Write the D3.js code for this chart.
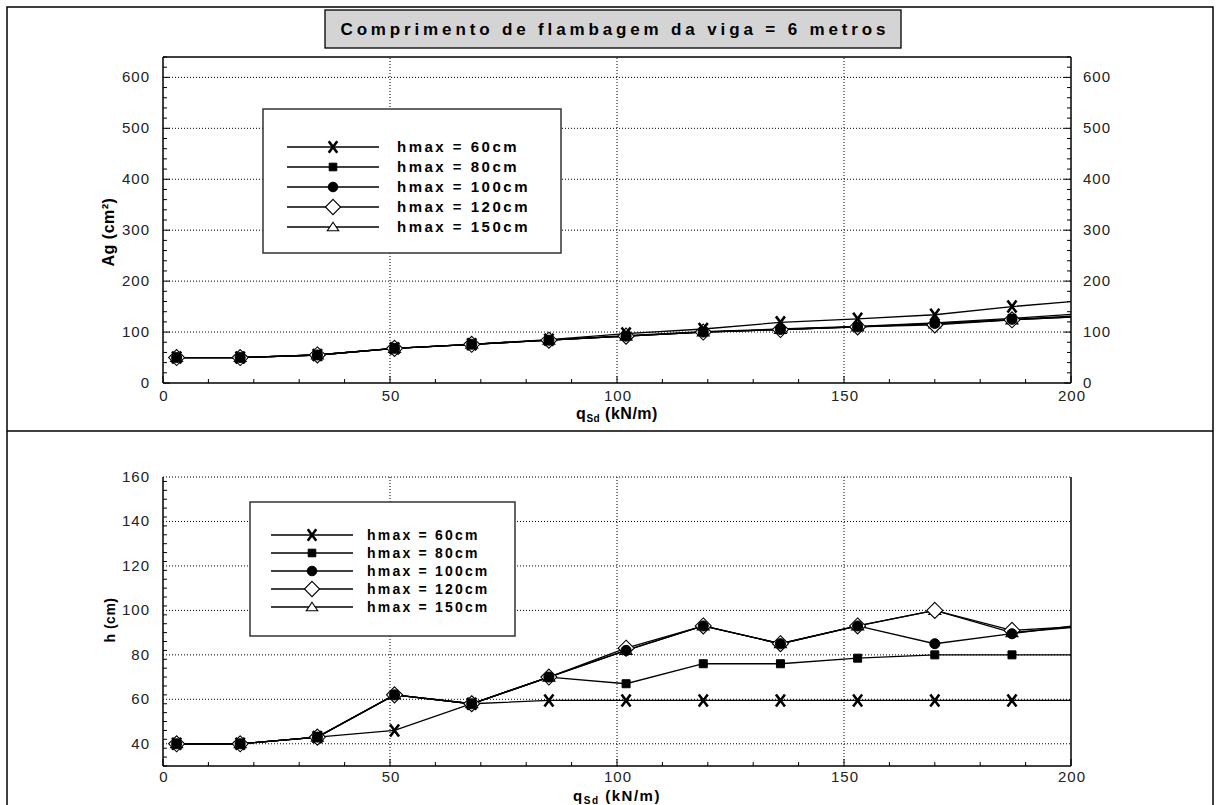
<!DOCTYPE html>
<html lang="pt">
<head>
    <meta charset="UTF-8" />
    <title>Comprimento de flambagem da viga = 6 metros</title>
    <script src="https://d3js.org/d3.v7.min.js"></script>
    <style>
        body { margin: 0; background: #fff; }
        svg { display: block; font-family: Arial, "Liberation Sans", sans-serif; }
        .tick-label { font-size: 15px; fill: #222; letter-spacing: 1px; }
        .grid { stroke: #000; stroke-width: 1; stroke-dasharray: 1,2; }
        .series { fill: none; stroke: #000; stroke-width: 1.3; }
    </style>
</head>
<body>
<script>
    // valores
    const qSd = [3, 17, 34, 51, 68, 85, 102, 119, 136, 153, 170, 187, 204];
    const seriesNames = ['hmax = 60cm', 'hmax = 80cm', 'hmax = 100cm', 'hmax = 120cm', 'hmax = 150cm'];
    const markerTypes = ['x', 'square', 'circle', 'diamond', 'triangle'];

    // Ag (cm²)
    const ag60  = [50, 50, 55, 68, 76, 85, 97, 106, 119, 126, 134, 150, 163];
    const ag80  = [50, 50, 55, 68, 76, 84, 93, 101, 106, 111, 118, 127, 137];
    const ag100 = [50, 50, 55, 68, 76, 84, 92, 100, 105, 110, 117, 125, 133];
    const ag120 = [50, 50, 55, 68, 76, 84, 92, 100, 105, 110, 114, 124, 131];
    const ag150 = [50, 50, 55, 68, 76, 84, 92, 100, 105, 110, 116, 124, 131];

    // h (cm)
    const h60  = [40, 40, 43, 46, 58, 59.5, 59.5, 59.5, 59.5, 59.5, 59.5, 59.5, 59.5];
    const h80  = [40, 40, 43, 62, 58, 70, 67, 76, 76, 78.5, 80, 80, 80];
    const h100 = [40, 40, 43, 62, 58, 70, 82, 93, 85, 93, 85, 89.5, 94];
    const h120 = [40, 40, 43, 62, 58, 70, 83, 93, 85, 93, 100, 91, 93];
    const h150 = [40, 40, 43, 62, 58, 70, 82, 93, 85, 93, 100, 90, 93];

    const xTicks = [0, 50, 100, 150, 200];
    const agTicks = [0, 100, 200, 300, 400, 500, 600];
    const hTicks = [40, 60, 80, 100, 120, 140, 160];

    const W = 1217, H = 805;
    const svg = d3.select('body').append('svg').attr('width', W).attr('height', H);

    // moldura externa e divisória
    svg.append('rect').attr('x', 7).attr('y', 7).attr('width', 1206).attr('height', 806)
        .attr('fill', 'none').attr('stroke', '#000').attr('stroke-width', 1.5);
    svg.append('line').attr('x1', 7).attr('x2', 1213).attr('y1', 431).attr('y2', 431)
        .attr('stroke', '#000').attr('stroke-width', 1.5);

    // título
    svg.append('rect').attr('x', 325).attr('y', 10).attr('width', 576).attr('height', 38)
        .attr('fill', '#d4d4d4').attr('stroke', '#000').attr('stroke-width', 1.3);
    svg.append('text').attr('x', 613).attr('y', 35).attr('text-anchor', 'middle')
        .attr('font-size', 17).attr('font-weight', 'bold')
        .attr('textLength', 545).attr('lengthAdjust', 'spacing')
        .text('Comprimento de flambagem da viga = 6 metros');

    function markerPath(type, s) {
        if (type === 'x') return `M${-4.5 * s},${-6 * s}L${4.5 * s},${6 * s}M${4.5 * s},${-6 * s}L${-4.5 * s},${6 * s}`;
        if (type === 'square') return `M${-4 * s},${-4 * s}h${8 * s}v${8 * s}h${-8 * s}Z`;
        if (type === 'diamond') return `M0,${-8 * s}L${8 * s},0L0,${8 * s}L${-8 * s},0Z`;
        if (type === 'triangle') return `M0,${-5 * s}L${6 * s},${4 * s}L${-6 * s},${4 * s}Z`;
        return d3.symbol(d3.symbolCircle, 80 * s * s)();
    }

    function drawMarker(g, type, x, y, s) {
        const p = g.append('path').attr('d', markerPath(type, s))
            .attr('transform', `translate(${x},${y})`).attr('stroke', '#000');
        if (type === 'x') p.attr('fill', 'none').attr('stroke-width', 2.6);
        else if (type === 'square' || type === 'circle') p.attr('fill', '#000').attr('stroke-width', 1);
        else p.attr('fill', '#fff').attr('stroke-width', 1.1);
    }

    function drawPanel(o) {
        const g = svg.append('g');
        const x = d3.scaleLinear().domain([0, 200]).range([163, 1071]);
        const y = d3.scaleLinear().domain(o.yDomain).range(o.yRange);
        const [x0, x1] = x.range();
        const [yb, yt] = y.range();

        // grade pontilhada
        xTicks.filter(d => d > 0 && d < 200).forEach(d => {
            g.append('line').attr('class', 'grid').attr('x1', x(d)).attr('x2', x(d)).attr('y1', yb).attr('y2', yt);
        });
        o.yTicks.filter(d => d > o.yDomain[0]).forEach(d => {
            g.append('line').attr('class', 'grid').attr('x1', x0).attr('x2', x1).attr('y1', y(d)).attr('y2', y(d));
        });

        // eixos
        const axis = g.append('g').attr('stroke', '#000').attr('stroke-width', 1.5);
        axis.append('line').attr('x1', x0).attr('x2', x1).attr('y1', yb).attr('y2', yb);
        axis.append('line').attr('x1', x0).attr('x2', x0).attr('y1', yb).attr('y2', yt);
        axis.append('line').attr('x1', x1).attr('x2', x1).attr('y1', yb).attr('y2', yt);
        if (o.topLine) axis.append('line').attr('x1', x0).attr('x2', x1).attr('y1', yt).attr('y2', yt);

        d3.range(0, 201, 10).forEach(d => {
            axis.append('line').attr('x1', x(d)).attr('x2', x(d)).attr('y1', yb).attr('y2', yb - (d % 50 ? 4 : 7))
                .attr('stroke-width', 1);
        });
        d3.range(o.yDomain[0], o.yDomain[1] + 0.01, o.yMinor).forEach(d => {
            const len = o.yTicks.includes(d) ? 7 : 4;
            axis.append('line').attr('x1', x0).attr('x2', x0 + len).attr('y1', y(d)).attr('y2', y(d)).attr('stroke-width', 1);
            if (o.rightTicks) axis.append('line').attr('x1', x1).attr('x2', x1 - len).attr('y1', y(d)).attr('y2', y(d)).attr('stroke-width', 1);
        });

        // rótulos
        xTicks.forEach(d => {
            g.append('text').attr('class', 'tick-label').attr('x', x(d) + 1).attr('y', yb + o.xLabelDy)
                .attr('text-anchor', 'middle').text(d);
        });
        o.yTicks.forEach(d => {
            g.append('text').attr('class', 'tick-label').attr('x', 150).attr('y', y(d) + 5)
                .attr('text-anchor', 'end').text(d);
            if (o.rightLabels) g.append('text').attr('class', 'tick-label').attr('x', 1083).attr('y', y(d) + 5).text(d);
        });

        // títulos dos eixos
        g.append('text').attr('transform', `translate(${o.yTitleX},${o.yTitleY}) rotate(-90)`)
            .attr('text-anchor', 'middle').attr('font-weight', 'bold').attr('font-size', o.yTitleSize)
            .attr('letter-spacing', '0.5px').text(o.yTitle);
        const xt = g.append('text').attr('x', 617).attr('y', o.xTitleY).attr('text-anchor', 'middle')
            .attr('font-weight', 'bold').attr('font-size', o.xTitleSize).attr('letter-spacing', o.xTitleSpacing);
        xt.append('tspan').text('q');
        xt.append('tspan').attr('font-size', 10).attr('dy', 3).text('Sd');
        xt.append('tspan').attr('dy', -3).text(' (kN/m)');

        // séries
        const clipId = 'clip' + o.id;
        g.append('clipPath').attr('id', clipId).append('rect')
            .attr('x', x0).attr('y', yt).attr('width', x1 - x0).attr('height', yb - yt);
        const plot = g.append('g').attr('clip-path', `url(#${clipId})`);
        const line = d3.line().x((d, i) => x(qSd[i])).y(d => y(d));
        const order = [4, 3, 2, 1, 0];
        order.forEach(k => plot.append('path').attr('class', 'series').attr('d', line(o.series[k])));
        order.forEach(k => {
            o.series[k].forEach((v, i) => {
                if (qSd[i] <= 200) drawMarker(plot, markerTypes[k], x(qSd[i]), y(v), 1);
            });
        });

        // legenda
        const lg = g.append('g');
        const L = o.legend;
        lg.append('rect').attr('x', L.x).attr('y', L.y).attr('width', L.w).attr('height', L.h)
            .attr('fill', '#fff').attr('stroke', '#333').attr('stroke-width', 1.5);
        seriesNames.forEach((name, k) => {
            const ry = L.rowY + k * L.dy;
            lg.append('line').attr('x1', L.lx0).attr('x2', L.lx1).attr('y1', ry).attr('y2', ry)
                .attr('stroke', '#000').attr('stroke-width', 1.3);
            drawMarker(lg, markerTypes[k], (L.lx0 + L.lx1) / 2, ry, 0.95);
            lg.append('text').attr('x', L.tx).attr('y', ry + 5).attr('font-weight', 'bold')
                .attr('font-size', L.fs).attr('letter-spacing', L.ls).text(name);
        });
    }

    drawPanel({
        id: 'ag', yDomain: [0, 640], yRange: [383, 57], yTicks: agTicks, yMinor: 20,
        topLine: true, rightTicks: true, rightLabels: true, xLabelDy: 18,
        yTitle: 'Ag (cm²)', yTitleX: 114, yTitleY: 232, yTitleSize: 16,
        xTitleY: 419, xTitleSize: 16, xTitleSpacing: '0.5px',
        series: [ag60, ag80, ag100, ag120, ag150],
        legend: { x: 263, y: 109, w: 298, h: 144, rowY: 147, dy: 20, lx0: 287, lx1: 379, tx: 397, fs: 15, ls: '2.5px' }
    });

    drawPanel({
        id: 'h', yDomain: [30, 160], yRange: [766, 477], yTicks: hTicks, yMinor: 4,
        topLine: false, rightTicks: false, rightLabels: false, xLabelDy: 16,
        yTitle: 'h (cm)', yTitleX: 115, yTitleY: 620, yTitleSize: 14,
        xTitleY: 801, xTitleSize: 15, xTitleSpacing: '1.5px',
        series: [h60, h80, h100, h120, h150],
        legend: { x: 250, y: 502, w: 265, h: 134, rowY: 535, dy: 18, lx0: 271, lx1: 353, tx: 367, fs: 14, ls: '2.2px' }
    });
</script>
</body>
</html>
